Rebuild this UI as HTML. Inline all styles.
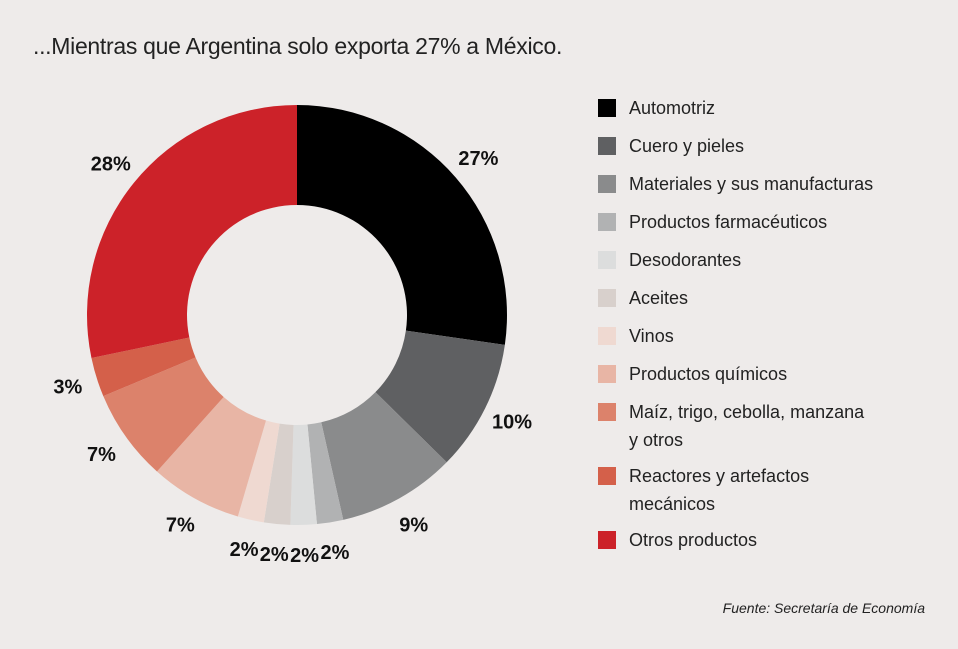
<!DOCTYPE html>
<html><head><meta charset="utf-8">
<style>
body{margin:0;background:#eeebea;font-family:"Liberation Sans",sans-serif;}
#wrap{position:relative;width:958px;height:649px;background:#eeebea;overflow:hidden}
h1{position:absolute;left:33px;top:33px;margin:0;font-weight:normal;font-size:23px;color:#222;letter-spacing:-0.3px}
.src{position:absolute;right:33px;top:600px;font-style:italic;font-size:14px;color:#222}
</style></head><body>
<div id="wrap">
<h1>...Mientras que Argentina solo exporta 27% a México.</h1>
<svg id="chart" width="958" height="649" style="position:absolute;left:0;top:0"></svg>
<div class="src">Fuente: Secretaría de Economía</div>
</div>
<script>
const categories=["Automotriz","Cuero y pieles","Materiales y sus manufacturas","Productos farmacéuticos","Desodorantes","Aceites","Vinos","Productos químicos","Maíz, trigo, cebolla, manzana|y otros","Reactores y artefactos|mecánicos","Otros productos"];
const values=[27,10,9,2,2,2,2,7,7,3,28];
const labels=["27%","10%","9%","2%","2%","2%","2%","7%","7%","3%","28%"];
const colors=["#000000","#5f6062","#8a8b8c","#b1b2b3","#dcdddd","#d8d0cc","#efd9d1","#e8b5a5","#dc826b","#d4604a","#cc2229"];
const NS="http://www.w3.org/2000/svg";
const svg=document.getElementById("chart");
const cx=297,cy=315,R=210,r=110,LR=240;
const total=values.reduce((a,b)=>a+b,0);
function pt(a,rad){return [cx+rad*Math.sin(a),cy-rad*Math.cos(a)];}
let acc=0;
values.forEach((v,i)=>{
  const a0=acc/total*2*Math.PI; acc+=v; const a1=acc/total*2*Math.PI;
  const large=(a1-a0)>Math.PI?1:0;
  const [x0,y0]=pt(a0,R),[x1,y1]=pt(a1,R),[x2,y2]=pt(a1,r),[x3,y3]=pt(a0,r);
  const p=document.createElementNS(NS,"path");
  p.setAttribute("d",`M${x0},${y0}A${R},${R} 0 ${large} 1 ${x1},${y1}L${x2},${y2}A${r},${r} 0 ${large} 0 ${x3},${y3}Z`);
  p.setAttribute("fill",colors[i]);
  
  
  svg.appendChild(p);
  const [lx,ly]=pt((a0+a1)/2,LR);
  const t=document.createElementNS(NS,"text");
  t.setAttribute("x",lx);t.setAttribute("y",ly+7);
  t.setAttribute("text-anchor","middle");
  t.setAttribute("font-size","20");t.setAttribute("font-weight","bold");t.setAttribute("fill","#111");
  t.textContent=labels[i];
  
  
  svg.appendChild(t);
});
let y=99;
categories.forEach((c,i)=>{
  const g=document.createElementNS(NS,"g");
  
  
  const s=document.createElementNS(NS,"rect");
  s.setAttribute("x",598);s.setAttribute("y",y);s.setAttribute("width",18);s.setAttribute("height",18);s.setAttribute("fill",colors[i]);
  
  
  g.appendChild(s);
  const lines=c.split("|");
  lines.forEach((ln,k)=>{
    const t=document.createElementNS(NS,"text");
    t.setAttribute("x",629);t.setAttribute("y",y+15+k*28);
    t.setAttribute("font-size","18");t.setAttribute("fill","#222");
    t.textContent=ln;
    
    
    g.appendChild(t);
  });
  svg.appendChild(g);
  y+=38+(lines.length-1)*26;
});
</script>
</body></html>
